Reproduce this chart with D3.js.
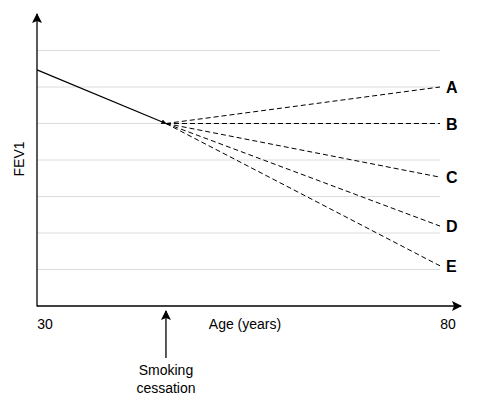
<!DOCTYPE html>
<meta charset="utf-8">
<style>
body { margin: 0; background: #fff; }
text { font-family: "Liberation Sans", Arial, sans-serif; fill: #000; }
.grid line { stroke: #dcdcdc; stroke-width: 1px; }
.decline { fill: none; stroke: #000; stroke-width: 1.2px; }
.branch { fill: none; stroke: #000; stroke-width: 1px; stroke-dasharray: 5,3; }
</style>
<body>
<script src="https://d3js.org/d3.v7.min.js"></script>
<script>

// ages and FEV1 values (arbitrary units, axis runs 0..8)
var ageStart = 30, ageQuit = 46, ageEnd = 80;
var fevStart = 6.47, fevQuit = 5.0;
var branchNames = ["A", "B", "C", "D", "E"];
var branchEnd = [6.0, 5.0, 3.53, 2.19, 1.1];
var gridValues = [1, 2, 3, 4, 5, 6, 7];
var xTicks = [30, 80];

var svg = d3.select("body").append("svg")
    .attr("width", 477)
    .attr("height", 408);

// set the ranges
var x = d3.scaleLinear().domain([ageStart, ageEnd]).range([37, 440]);
var y = d3.scaleLinear().domain([0, 8]).range([306, 14]);

// arrow heads
var defs = svg.append("defs");
defs.append("marker")
    .attr("id", "arrow")
    .attr("viewBox", "0 0 10 10")
    .attr("refX", 9).attr("refY", 5)
    .attr("markerWidth", 10).attr("markerHeight", 10)
    .attr("markerUnits", "userSpaceOnUse")
    .attr("orient", "auto")
  .append("path")
    .attr("d", "M0,0 L10,5 L0,10 L2,5 Z")
    .attr("fill", "#000");
defs.append("marker")
    .attr("id", "small")
    .attr("viewBox", "0 0 10 10")
    .attr("refX", 9).attr("refY", 5)
    .attr("markerWidth", 5).attr("markerHeight", 5)
    .attr("markerUnits", "userSpaceOnUse")
    .attr("orient", "auto")
  .append("path")
    .attr("d", "M0,0 L10,5 L0,10 Z")
    .attr("fill", "#000");

// grid lines
svg.append("g").attr("class", "grid")
  .selectAll("line")
  .data(gridValues)
  .enter().append("line")
    .attr("x1", x(ageStart))
    .attr("x2", x(ageEnd))
    .attr("y1", function(d) { return y(d); })
    .attr("y2", function(d) { return y(d); });

// axes with arrows
svg.append("line")
    .attr("x1", x(ageStart)).attr("y1", y(0) + 0.5)
    .attr("x2", x(ageStart)).attr("y2", y(8))
    .attr("stroke", "#000").attr("stroke-width", 1.3)
    .attr("marker-end", "url(#arrow)");
svg.append("line")
    .attr("x1", x(ageStart)).attr("y1", y(0))
    .attr("x2", 461).attr("y2", y(0))
    .attr("stroke", "#000").attr("stroke-width", 1.3)
    .attr("marker-end", "url(#arrow)");

// tick labels
svg.selectAll(".tick-label")
  .data(xTicks)
  .enter().append("text")
    .attr("class", "tick-label")
    .attr("x", function(d) { return x(d) + 8; })
    .attr("y", y(0) + 23)
    .attr("text-anchor", "middle")
    .style("font-size", "14px")
    .text(function(d) { return d; });

svg.append("text")
    .attr("x", 245).attr("y", y(0) + 23)
    .attr("text-anchor", "middle")
    .style("font-size", "14px")
    .text("Age (years)");

svg.append("text")
    .attr("transform", "translate(24,159) rotate(-90)")
    .attr("text-anchor", "middle")
    .style("font-size", "14px")
    .text("FEV1");

// decline before quitting
var line = d3.line()
    .x(function(d) { return x(d[0]); })
    .y(function(d) { return y(d[1]); });

svg.append("path")
    .attr("class", "decline")
    .attr("d", line([[ageStart, fevStart], [ageQuit, fevQuit]]))
    .attr("marker-end", "url(#small)");

// branches after quitting
svg.selectAll(".branch")
  .data(branchEnd)
  .enter().append("path")
    .attr("class", "branch")
    .attr("d", function(d) { return line([[ageQuit, fevQuit], [ageEnd, d]]); });

svg.selectAll(".branch-label")
  .data(branchNames)
  .enter().append("text")
    .attr("class", "branch-label")
    .attr("x", x(ageEnd) + 6)
    .attr("y", function(d, i) { return y(branchEnd[i]) + 6; })
    .style("font-size", "16px")
    .style("font-weight", "bold")
    .text(function(d) { return d; });

// smoking cessation marker
svg.append("line")
    .attr("x1", x(ageQuit)).attr("y1", 358)
    .attr("x2", x(ageQuit)).attr("y2", 311)
    .attr("stroke", "#000").attr("stroke-width", 1.3)
    .attr("marker-end", "url(#arrow)");

svg.append("text")
    .attr("x", x(ageQuit)).attr("y", 375)
    .attr("text-anchor", "middle")
    .style("font-size", "14px")
    .text("Smoking");
svg.append("text")
    .attr("x", x(ageQuit)).attr("y", 393)
    .attr("text-anchor", "middle")
    .style("font-size", "14px")
    .text("cessation");

</script>
</body>
